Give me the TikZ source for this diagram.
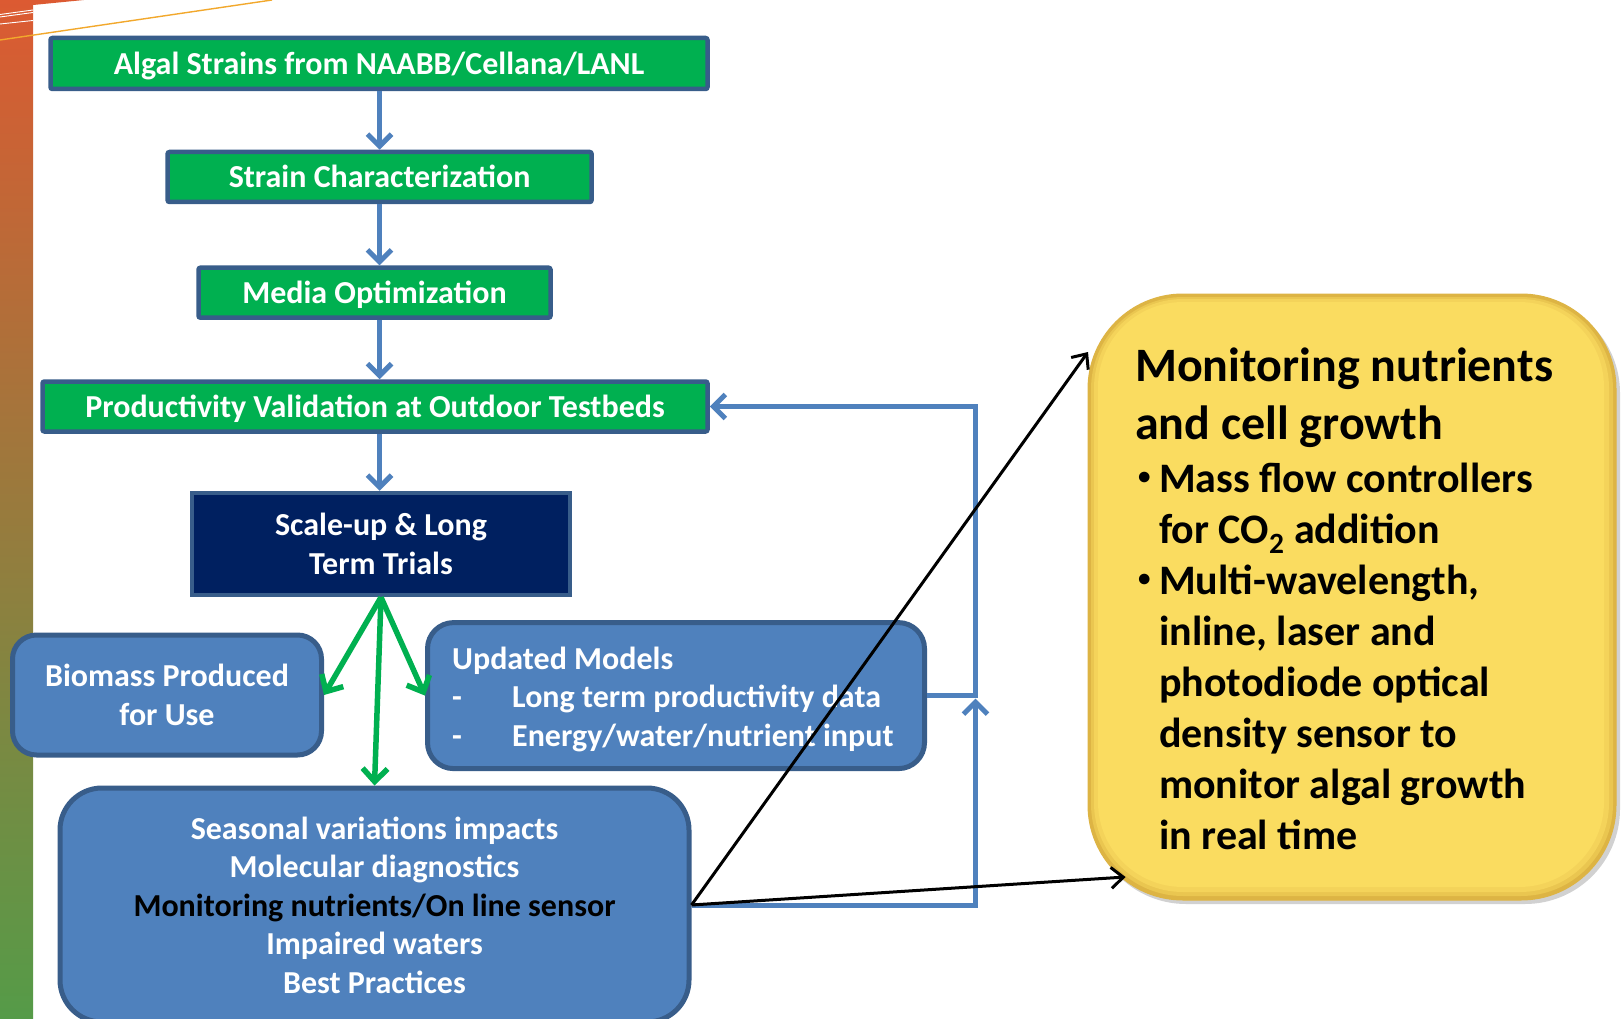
\documentclass[tikz,border=0pt]{standalone}
\usepackage{fontspec}
\setmainfont{Carlito}
\usetikzlibrary{arrows.meta,calc}

\definecolor{boxgreen}{HTML}{00B050}
\definecolor{edgeblue}{HTML}{385D8A}
\definecolor{fillblue}{HTML}{4F81BD}
\definecolor{navyfill}{HTML}{002060}
\definecolor{stripA}{HTML}{DC5A32}
\definecolor{stripB}{HTML}{A47C44}
\definecolor{stripC}{HTML}{559B48}
\definecolor{accentline}{HTML}{F2A82C}
\definecolor{goldA}{HTML}{DDB444}
\definecolor{goldB}{HTML}{EAC650}
\definecolor{goldC}{HTML}{F4D35A}
\definecolor{goldD}{HTML}{FADC60}

\newcommand{\notebullet}{\makebox[21pt][l]{\raisebox{8pt}{\fontsize{25}{25}\selectfont\textbullet}}}

\begin{document}
\begin{tikzpicture}[x=1pt,y=-1pt,
  flowtext/.style={font=\bfseries\fontsize{32}{38.5}\selectfont},
  greenbox/.style={draw=edgeblue, line width=4.5pt, fill=boxgreen, text=white,
    flowtext, inner sep=0pt, rounded corners=2pt, text height=22pt, text depth=0pt},
  navybox/.style={draw=edgeblue, line width=4.5pt, fill=navyfill, text=white,
    flowtext, inner sep=0pt, align=center},
  roundbox/.style={draw=edgeblue, line width=5pt, fill=fillblue, text=white,
    flowtext, inner sep=0pt, align=center},
  notetitle/.style={font=\bfseries\fontsize{48}{58}\selectfont, anchor=base west, inner sep=0pt},
  noteline/.style={font=\bfseries\fontsize{42}{51}\selectfont, anchor=base west, inner sep=0pt},
  stepline/.style={draw=fillblue, line width=5pt, -{Straight Barb[length=12pt,width=24pt]}},
  fbline/.style={draw=fillblue, line width=5pt},
  grnline/.style={draw=boxgreen, line width=5.5pt, -{Straight Barb[length=13pt,width=25pt]}},
  blkline/.style={draw=black, line width=3pt, -{Straight Barb[length=12pt,width=21pt]}}
]
\useasboundingbox (0,0) rectangle (1622,1019);

% page background and left colour band
\fill[white] (0,0) rectangle (1622,1019);
\shade[top color=stripA, middle color=stripB, bottom color=stripC] (0,0) rectangle (33,1019);
\fill[stripA] (33,0) -- (84,0) -- (33,5) -- cycle;
\draw[white, line width=0.9pt] (0,14.5) -- (33,10);
\draw[white, line width=0.9pt] (0,17) -- (33,12.5);
\draw[white, line width=0.9pt] (0,24) -- (33,20.5);
\draw[accentline, line width=1.4pt] (0,40) -- (272,0);

% main flow
\coordinate (axis) at (379.5,0);
\node[greenbox, minimum width=657pt, minimum height=51pt] (strains) at (379,63.5)
  {Algal Strains from NAABB/Cellana/LANL};
\node[greenbox, minimum width=424pt, minimum height=50pt] (charac) at (379.6,177)
  {Strain Characterization};
\node[greenbox, minimum width=352pt, minimum height=50pt] (media) at (374.5,292.7)
  {Media Optimization};
\node[greenbox, minimum width=665pt, minimum height=50pt] (prod) at (375,406.5)
  {Productivity Validation at Outdoor Testbeds};
\node[navybox, minimum width=378pt, minimum height=102pt] (scale) at (381,544)
  {Scale-up \& Long\\Term Trials};

\node[roundbox, rounded corners=24pt, minimum width=309pt, minimum height=120pt] (bio) at (167,695)
  {Biomass Produced\\for Use};
\node[roundbox, rounded corners=26pt, minimum width=497pt, minimum height=146pt] (models) at (676,695.6) {};
\node[flowtext, text=white, align=left, anchor=west, inner sep=0pt] (modeltext) at (452,699)
  {Updated Models\\
   \makebox[60pt][l]{-}Long term productivity data\\
   \makebox[60pt][l]{-}Energy/water/nutrient input};
\node[roundbox, rounded corners=42pt, minimum width=629pt, minimum height=234pt] (seas) at (374.5,905)
  {Seasonal variations impacts\\
   Molecular diagnostics\\
   \textcolor{black}{Monitoring nutrients/On line sensor}\\
   Impaired waters\\
   Best Practices};

\draw[stepline] (strains.south -| axis) -- (charac.north -| axis);
\draw[stepline] (charac.south -| axis) -- (media.north -| axis);
\draw[stepline] (media.south -| axis) -- (prod.north -| axis);
\draw[stepline] (prod.south -| axis) -- (scale.north -| axis);

\draw[grnline] (scale.south) -- (bio.east);
\draw[grnline] (scale.south) -- (seas.north);
\draw[grnline] (scale.south) -- (models.west);

% feedback to the outdoor testbeds
\coordinate (bus) at (975.5,0);
\draw[fbline, -{Straight Barb[length=12pt,width=24pt]}]
  (models.east) -- (models.east -| bus) -- (bus |- prod.east) -- (prod.east);
\draw[fbline, -{Straight Barb[length=12pt,width=24pt]}]
  (seas.east) -- (seas.east -| bus) -- ($(bus |- models.east)+(0,3)$);

% monitoring call-out
\fill[black, opacity=0.18, rounded corners=95pt] (1091,298) rectangle (1620,904);
\node[draw=goldA, line width=1pt, fill=goldA, rounded corners=95pt,
      minimum width=528pt, minimum height=606pt, inner sep=0pt] (note) at (1352,597) {};
\fill[goldB, rounded corners=92pt] (1091,297) rectangle (1613,896);
\fill[goldC, rounded corners=89pt] (1094,299) rectangle (1609,892);
\fill[goldD, rounded corners=85pt] (1098,302) rectangle (1604,887);

\node[notetitle] (n1) at (1135,381) {Monitoring nutrients};
\node[notetitle] (n2) at (1135,439) {and cell growth};
\node[noteline] (n3) at (1138,492) {\notebullet Mass flow controllers};
\node[noteline] (n4) at (1159,543) {for CO\textsubscript{2} addition};
\node[noteline] (n5) at (1138,594) {\notebullet Multi-wavelength,};
\node[noteline] (n6) at (1159,645) {inline, laser and};
\node[noteline] (n7) at (1159,696) {photodiode optical};
\node[noteline] (n8) at (1159,747) {density sensor to};
\node[noteline] (n9) at (1159,798) {monitor algal growth};
\node[noteline] (n10) at (1159,849) {in real time};

% links from the sensor line to the call-out
\coordinate (tipup) at (1088,352);
\coordinate (tipdown) at (1125.5,877);
\draw[blkline] (seas.east) -- (tipup);
\draw[blkline] (seas.east) -- (tipdown);
\end{tikzpicture}
\end{document}
